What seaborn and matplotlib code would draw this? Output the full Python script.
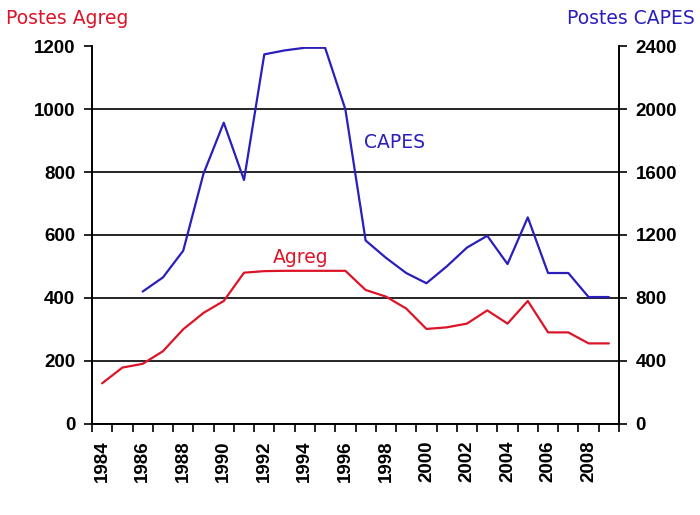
import numpy as np
import pandas as pd
import matplotlib
matplotlib.use('Agg')
import matplotlib.pyplot as plt
from matplotlib import font_manager
import seaborn as sns

# data
years_agreg = list(range(1984, 2010))
postes_agreg = [128, 178, 190, 230, 300, 352, 390, 480, 485, 486, 486, 486, 486,
                425, 404, 366, 301, 306, 318, 360, 318, 390, 290, 290, 255, 255]

years_capes = list(range(1986, 2010))
postes_capes = [840, 930, 1100, 1590, 1915, 1550, 2350, 2375, 2392, 2392, 2000,
                1165, 1055, 958, 893, 1000, 1120, 1195, 1015, 1312, 958, 958, 805, 805]

left_ticks = [0, 200, 400, 600, 800, 1000, 1200]
right_ticks = [0, 400, 800, 1200, 1600, 2000, 2400]
year_labels = list(range(1984, 2009, 2))

agreg_color = '#dc1428'
capes_color = '#2a1ebc'

df_agreg = pd.DataFrame({'annee': years_agreg, 'postes': postes_agreg})
df_capes = pd.DataFrame({'annee': years_capes, 'postes': postes_capes})

# Arial-like bold for the tick labels (avoid the Narrow variant)
tick_font = font_manager.FontProperties(family='DejaVu Sans', weight='bold', size=12.5)
for f in font_manager.findSystemFonts():
    if f.endswith('LiberationSans-Bold.ttf'):
        tick_font = font_manager.FontProperties(fname=f, size=13.5)
        break

sns.set_style('white')
plt.rcParams['text.color'] = 'black'
fig = plt.figure(figsize=(7, 5.15), dpi=100)
ax = fig.add_axes([92 / 700, 1 - 423.5 / 515, 527 / 700, 377 / 515])
ax2 = ax.twinx()

sns.lineplot(data=df_agreg, x='annee', y='postes', ax=ax, color=agreg_color, linewidth=1.6)
sns.lineplot(data=df_capes, x='annee', y='postes', ax=ax2, color=capes_color, linewidth=1.6)

ax.set_xlim(1983.5, 2009.5)
ax.set_ylim(0, 1200)
ax2.set_ylim(0, 2400)
ax.set_yticks(left_ticks)
ax2.set_yticks(right_ticks)
for t in left_ticks:
    ax.axhline(t, color='black', linewidth=1.2, zorder=0)

ax.set_xticks(year_labels)
ax.set_xticklabels([str(y) for y in year_labels], rotation=90)
ax.set_xticks(np.arange(1983.5, 2010, 1), minor=True)
ax.tick_params(axis='x', which='major', length=0, pad=12)
ax.tick_params(axis='x', which='minor', length=6, width=1.2, color='black', direction='out')
ax.tick_params(axis='y', length=6, width=1.2, color='black', direction='out', pad=6)
ax2.tick_params(axis='y', length=6, width=1.2, color='black', direction='out', pad=6)
ax.tick_params(left=True, bottom=True, which='both')
ax2.tick_params(right=True)

for a in (ax, ax2):
    for lab in a.get_xticklabels() + a.get_yticklabels():
        lab.set_fontproperties(tick_font)
        lab.set_color('black')
    a.set_xlabel('')
    a.set_ylabel('')
    a.spines['top'].set_visible(False)
    for s in ('left', 'right', 'bottom'):
        a.spines[s].set_color('black')
        a.spines[s].set_linewidth(1.2)

fig.text(6 / 700, 1 - 19 / 515, 'Postes Agreg', color=agreg_color, fontsize=13.5,
         ha='left', va='center')
fig.text(695 / 700, 1 - 19 / 515, 'Postes CAPES', color=capes_color, fontsize=13.5,
         ha='right', va='center')
ax.text(1993.8, 527, 'Agreg', color=agreg_color, fontsize=13.5, ha='center', va='center')
ax.text(1998.4, 896, 'CAPES', color=capes_color, fontsize=13.5, ha='center', va='center')

fig.savefig('out.png', dpi=100)
